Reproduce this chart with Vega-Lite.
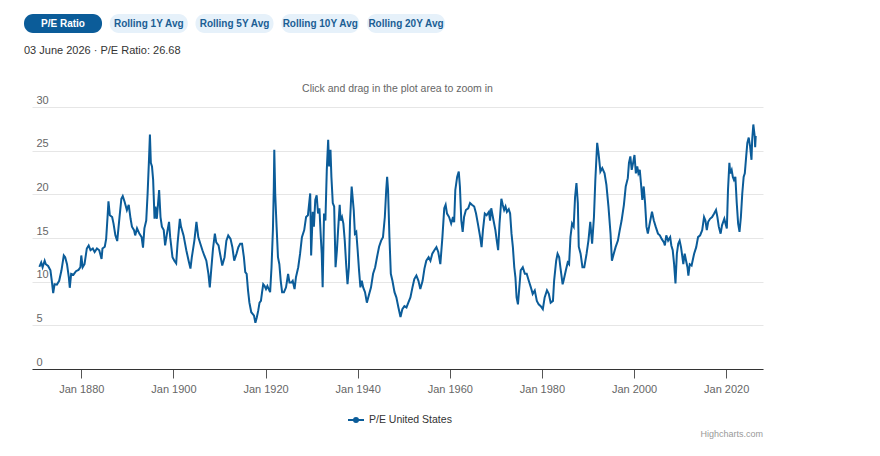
{
  "$schema": "https://vega.github.io/schema/vega-lite/v6.json",
  "background": "white",
  "padding": {"left": 24, "top": 14, "right": 10, "bottom": 5},
  "config": {"view": {"stroke": null}, "font": "Liberation Sans", "concat": {"spacing": 28}},
  "title": {"text": "Highcharts.com", "orient": "bottom", "anchor": "end", "fontSize": 9, "color": "#999999", "fontWeight": "normal", "offset": 4},
  "vconcat": [
    {
      "width": 421,
      "height": 19,
      "data": {"values": [
        {"label": "P/E Ratio"}, {"label": "Rolling 1Y Avg"}, {"label": "Rolling 5Y Avg"}, {"label": "Rolling 10Y Avg"}, {"label": "Rolling 20Y Avg"}
      ]},
      "title": {"text": "03 June 2026 · P/E Ratio: 26.68", "orient": "bottom", "anchor": "start", "fontSize": 11, "fontWeight": "normal", "color": "#333333", "offset": 12},
      "encoding": {
        "x": {"field": "label", "type": "nominal", "sort": null, "scale": {"range": [-8, 413], "paddingInner": 0.09, "paddingOuter": 0}, "axis": null}
      },
      "layer": [
        {"mark": {"type": "rect", "cornerRadius": 9},
         "encoding": {"fill": {"condition": {"test": "datum.label === 'P/E Ratio'", "value": "#0b5c99"}, "value": "#e6f1fa"}}},
        {"mark": {"type": "text", "fontSize": 10, "fontWeight": "bold"},
         "encoding": {"text": {"field": "label"}, "color": {"condition": {"test": "datum.label === 'P/E Ratio'", "value": "#ffffff"}, "value": "#1b5e94"}}}
      ]
    },
    {
      "width": 731,
      "height": 262,
      "title": {"text": "Click and drag in the plot area to zoom in", "anchor": "middle", "frame": "group", "fontSize": 10.5, "fontWeight": "normal", "color": "#666666", "offset": -0.5},
      "data": {"values": [
        {"year":1870.9,"pe":11.7},{"year":1871.3,"pe":12.2},{"year":1871.6,"pe":11.65},{"year":1872.05,"pe":12.4},{"year":1872.3,"pe":12.0},{"year":1872.8,"pe":11.8},{"year":1873.3,"pe":11.3},{"year":1873.6,"pe":10.1},{"year":1873.9,"pe":8.7},{"year":1874.2,"pe":9.7},{"year":1874.7,"pe":9.65},{"year":1875.2,"pe":10.1},{"year":1875.7,"pe":11.3},{"year":1876.2,"pe":13.0},{"year":1876.5,"pe":12.8},{"year":1876.9,"pe":12.0},{"year":1877.3,"pe":10.5},{"year":1877.5,"pe":9.3},{"year":1877.8,"pe":10.9},{"year":1878.3,"pe":10.8},{"year":1878.85,"pe":11.2},{"year":1879.4,"pe":11.35},{"year":1879.8,"pe":11.65},{"year":1880.0,"pe":13.0},{"year":1880.3,"pe":11.65},{"year":1880.7,"pe":12.0},{"year":1881.2,"pe":13.8},{"year":1881.6,"pe":14.15},{"year":1882.0,"pe":13.6},{"year":1882.5,"pe":13.8},{"year":1882.9,"pe":13.4},{"year":1883.4,"pe":13.8},{"year":1883.9,"pe":13.6},{"year":1884.4,"pe":12.6},{"year":1884.6,"pe":13.8},{"year":1885.1,"pe":14.0},{"year":1885.4,"pe":14.9},{"year":1885.7,"pe":17.4},{"year":1885.9,"pe":19.2},{"year":1886.2,"pe":17.6},{"year":1886.7,"pe":17.4},{"year":1887.0,"pe":16.65},{"year":1887.4,"pe":15.3},{"year":1887.8,"pe":14.65},{"year":1888.3,"pe":17.4},{"year":1888.7,"pe":19.5},{"year":1889.0,"pe":19.8},{"year":1889.4,"pe":19.15},{"year":1889.9,"pe":18.2},{"year":1890.3,"pe":18.8},{"year":1890.7,"pe":17.2},{"year":1891.0,"pe":16.3},{"year":1891.45,"pe":15.9},{"year":1891.7,"pe":15.3},{"year":1892.1,"pe":16.1},{"year":1892.6,"pe":15.5},{"year":1893.1,"pe":15.1},
        {"year":1893.4,"pe":13.9},{"year":1893.7,"pe":16.1},{"year":1894.1,"pe":17.0},{"year":1894.4,"pe":20.1},{"year":1894.7,"pe":24.0},{"year":1894.9,"pe":26.85},{"year":1895.1,"pe":23.6},{"year":1895.35,"pe":23.2},{"year":1895.6,"pe":21.65},{"year":1895.9,"pe":17.2},{"year":1896.1,"pe":18.6},{"year":1896.4,"pe":17.2},{"year":1896.9,"pe":20.5},{"year":1897.2,"pe":17.4},{"year":1897.5,"pe":16.3},{"year":1897.9,"pe":15.9},{"year":1898.2,"pe":14.15},{"year":1898.6,"pe":15.5},{"year":1899.05,"pe":16.85},{"year":1899.3,"pe":15.1},{"year":1899.8,"pe":12.8},{"year":1900.2,"pe":12.4},{"year":1900.6,"pe":12.1},{"year":1900.9,"pe":14.35},{"year":1901.4,"pe":17.2},{"year":1901.65,"pe":16.3},{"year":1902.2,"pe":15.3},{"year":1902.8,"pe":13.6},{"year":1903.3,"pe":12.4},{"year":1903.7,"pe":11.5},{"year":1904.0,"pe":12.8},{"year":1904.55,"pe":14.7},{"year":1905.0,"pe":16.85},{"year":1905.4,"pe":15.1},{"year":1905.85,"pe":14.35},{"year":1906.3,"pe":13.6},{"year":1906.7,"pe":13.0},{"year":1907.15,"pe":12.4},{"year":1907.6,"pe":10.9},{"year":1907.9,"pe":9.35},{"year":1908.2,"pe":11.3},{"year":1908.6,"pe":13.8},{"year":1909.0,"pe":15.5},{"year":1909.3,"pe":14.5},{"year":1909.8,"pe":14.15},{"year":1910.2,"pe":13.0},{"year":1910.6,"pe":11.85},{"year":1911.1,"pe":12.8},{"year":1911.5,"pe":14.7},{"year":1911.9,"pe":15.3},{"year":1912.4,"pe":14.9},{"year":1912.8,"pe":13.95},{"year":1913.2,"pe":12.4},{"year":1913.7,"pe":13.2},{"year":1914.1,"pe":13.95},{"year":1914.5,"pe":14.35},{"year":1914.9,"pe":14.35},
        {"year":1915.3,"pe":12.8},{"year":1915.6,"pe":11.1},{"year":1915.9,"pe":10.9},{"year":1916.2,"pe":9.0},{"year":1916.5,"pe":7.6},{"year":1916.9,"pe":6.5},{"year":1917.2,"pe":6.3},{"year":1917.5,"pe":6.1},{"year":1917.8,"pe":5.3},{"year":1918.1,"pe":5.9},{"year":1918.4,"pe":6.65},{"year":1918.7,"pe":7.6},{"year":1919.0,"pe":7.8},{"year":1919.25,"pe":8.8},{"year":1919.5,"pe":9.7},{"year":1919.8,"pe":9.5},{"year":1920.1,"pe":9.15},{"year":1920.4,"pe":9.5},{"year":1920.7,"pe":9.15},{"year":1921.0,"pe":8.8},{"year":1921.3,"pe":11.65},{"year":1921.6,"pe":15.9},{"year":1921.8,"pe":20.9},{"year":1921.9,"pe":25.1},{"year":1922.1,"pe":20.1},{"year":1922.4,"pe":16.3},{"year":1922.7,"pe":12.8},{"year":1923.0,"pe":12.0},{"year":1923.3,"pe":10.1},{"year":1923.6,"pe":8.8},{"year":1924.0,"pe":8.8},{"year":1924.45,"pe":9.35},{"year":1924.9,"pe":10.9},{"year":1925.2,"pe":9.9},{"year":1925.6,"pe":9.9},{"year":1925.9,"pe":10.1},{"year":1926.3,"pe":9.15},{"year":1926.6,"pe":10.5},{"year":1927.1,"pe":11.65},{"year":1927.5,"pe":13.2},{"year":1927.9,"pe":15.1},{"year":1928.4,"pe":15.9},{"year":1928.8,"pe":17.4},{"year":1929.2,"pe":17.6},{"year":1929.7,"pe":20.1},{"year":1929.9,"pe":13.0},{"year":1930.25,"pe":18.0},{"year":1930.5,"pe":16.3},{"year":1930.8,"pe":19.35},{"year":1931.1,"pe":19.9},{"year":1931.4,"pe":17.8},{"year":1931.7,"pe":18.4},{"year":1932.0,"pe":15.1},{"year":1932.2,"pe":13.2},{"year":1932.4,"pe":9.35},{"year":1932.7,"pe":17.8},{"year":1933.0,"pe":17.0},{"year":1933.3,"pe":22.8},{"year":1933.6,"pe":26.25},{"year":1933.8,"pe":23.2},{"year":1934.1,"pe":25.1},{"year":1934.3,"pe":22.0},{"year":1934.6,"pe":19.0},{"year":1934.9,"pe":18.6},{"year":1935.2,"pe":11.65},{"year":1935.5,"pe":13.6},{"year":1935.75,"pe":15.9},{"year":1936.1,"pe":18.8},{"year":1936.3,"pe":17.0},{"year":1936.6,"pe":17.4},{"year":1936.9,"pe":16.65},{"year":1937.2,"pe":14.7},{"year":1937.5,"pe":12.0},{"year":1937.8,"pe":9.7},{"year":1938.1,"pe":11.65},{"year":1938.35,"pe":17.0},{"year":1938.7,"pe":20.9},
        {"year":1939.15,"pe":18.2},{"year":1939.4,"pe":15.5},{"year":1939.7,"pe":15.7},{"year":1940.0,"pe":13.6},{"year":1940.3,"pe":11.3},{"year":1940.6,"pe":9.35},{"year":1940.9,"pe":10.1},{"year":1941.2,"pe":9.35},{"year":1941.6,"pe":8.8},{"year":1942.0,"pe":7.6},{"year":1942.5,"pe":8.6},{"year":1942.9,"pe":9.35},{"year":1943.35,"pe":10.9},{"year":1943.8,"pe":11.65},{"year":1944.2,"pe":12.8},{"year":1944.65,"pe":14.0},{"year":1945.1,"pe":14.7},{"year":1945.5,"pe":15.1},{"year":1945.9,"pe":17.4},{"year":1946.2,"pe":20.5},{"year":1946.4,"pe":22.0},{"year":1946.6,"pe":20.5},{"year":1946.9,"pe":15.1},{"year":1947.2,"pe":10.9},{"year":1947.55,"pe":10.1},{"year":1948.0,"pe":8.8},{"year":1948.4,"pe":8.2},{"year":1948.85,"pe":7.05},{"year":1949.3,"pe":5.95},{"year":1949.7,"pe":6.85},{"year":1950.15,"pe":7.2},{"year":1950.6,"pe":7.05},{"year":1951.0,"pe":7.6},{"year":1951.45,"pe":8.2},{"year":1951.9,"pe":9.35},{"year":1952.3,"pe":10.3},{"year":1952.75,"pe":10.7},{"year":1953.2,"pe":10.1},{"year":1953.6,"pe":9.15},{"year":1954.1,"pe":10.1},{"year":1954.5,"pe":11.5},{"year":1954.9,"pe":12.4},{"year":1955.4,"pe":12.8},{"year":1955.8,"pe":12.4},{"year":1956.2,"pe":13.2},{"year":1956.65,"pe":13.6},{"year":1957.1,"pe":13.95},{"year":1957.5,"pe":13.4},{"year":1957.95,"pe":12.0},{"year":1958.4,"pe":15.1},{"year":1958.8,"pe":18.4},{"year":1959.1,"pe":18.8},{"year":1959.4,"pe":17.8},{"year":1959.85,"pe":17.4},{"year":1960.3,"pe":16.65},{"year":1960.7,"pe":17.4},{"year":1960.95,"pe":16.8},
        {"year":1961.2,"pe":20.5},{"year":1961.6,"pe":22.0},{"year":1961.95,"pe":22.6},{"year":1962.2,"pe":20.9},{"year":1962.5,"pe":17.0},{"year":1962.8,"pe":15.7},{"year":1963.1,"pe":17.4},{"year":1963.5,"pe":18.2},{"year":1964.0,"pe":18.4},{"year":1964.4,"pe":19.0},{"year":1964.8,"pe":18.8},{"year":1965.3,"pe":18.6},{"year":1965.7,"pe":17.8},{"year":1966.1,"pe":16.65},{"year":1966.6,"pe":15.1},{"year":1966.9,"pe":13.95},{"year":1967.2,"pe":15.9},{"year":1967.6,"pe":17.8},{"year":1968.0,"pe":17.6},{"year":1968.5,"pe":18.0},{"year":1968.75,"pe":17.0},{"year":1969.0,"pe":18.4},{"year":1969.5,"pe":17.0},{"year":1969.9,"pe":15.9},{"year":1970.2,"pe":14.7},{"year":1970.5,"pe":13.6},{"year":1970.8,"pe":16.65},{"year":1971.2,"pe":19.5},{"year":1971.5,"pe":18.8},{"year":1971.8,"pe":18.2},{"year":1972.1,"pe":18.6},{"year":1972.4,"pe":18.0},{"year":1972.8,"pe":18.3},{"year":1973.1,"pe":17.8},{"year":1973.4,"pe":15.5},{"year":1973.7,"pe":13.95},{"year":1974.0,"pe":11.65},{"year":1974.25,"pe":10.5},{"year":1974.5,"pe":8.2},{"year":1974.8,"pe":7.4},{"year":1975.1,"pe":9.35},{"year":1975.4,"pe":11.3},{"year":1975.85,"pe":11.65},{"year":1976.3,"pe":10.9},{"year":1976.7,"pe":10.9},{"year":1977.15,"pe":10.1},{"year":1977.6,"pe":9.35},{"year":1978.0,"pe":8.6},{"year":1978.45,"pe":9.0},{"year":1978.9,"pe":7.8},{"year":1979.3,"pe":7.4},{"year":1979.75,"pe":7.2},{"year":1980.2,"pe":6.85},{"year":1980.6,"pe":8.2},{"year":1981.1,"pe":9.0},{"year":1981.5,"pe":8.6},{"year":1981.9,"pe":7.6},{"year":1982.4,"pe":7.8},{"year":1982.65,"pe":10.1},{"year":1983.1,"pe":12.4},{"year":1983.4,"pe":13.2},{"year":1983.75,"pe":12.8},{"year":1984.05,"pe":11.5},{"year":1984.5,"pe":9.7},{"year":1984.7,"pe":10.1},
        {"year":1985.2,"pe":11.3},{"year":1985.6,"pe":12.2},{"year":1985.9,"pe":12.0},{"year":1986.2,"pe":15.1},{"year":1986.55,"pe":16.65},{"year":1986.9,"pe":16.3},{"year":1987.2,"pe":19.7},{"year":1987.5,"pe":21.3},{"year":1987.8,"pe":19.0},{"year":1988.0,"pe":14.0},{"year":1988.4,"pe":13.2},{"year":1988.8,"pe":11.65},{"year":1989.2,"pe":11.65},{"year":1989.7,"pe":13.2},{"year":1990.1,"pe":14.7},{"year":1990.5,"pe":16.85},{"year":1990.9,"pe":14.35},{"year":1991.3,"pe":17.4},{"year":1991.6,"pe":21.65},{"year":1992.0,"pe":25.9},{"year":1992.3,"pe":24.7},{"year":1992.7,"pe":22.6},{"year":1993.1,"pe":23.0},{"year":1993.6,"pe":22.4},{"year":1994.0,"pe":21.1},{"year":1994.45,"pe":18.6},{"year":1994.9,"pe":15.5},{"year":1995.2,"pe":12.4},{"year":1995.6,"pe":13.2},{"year":1996.0,"pe":13.95},{"year":1996.5,"pe":14.7},{"year":1996.9,"pe":15.9},{"year":1997.3,"pe":17.0},{"year":1997.8,"pe":18.8},{"year":1998.2,"pe":20.9},{"year":1998.65,"pe":21.85},{"year":1998.9,"pe":23.6},{"year":1999.2,"pe":24.35},{"year":1999.5,"pe":22.8},{"year":1999.8,"pe":23.6},{"year":2000.1,"pe":24.5},{"year":2000.4,"pe":22.4},{"year":2000.7,"pe":23.2},{"year":2000.95,"pe":22.4},{"year":2001.25,"pe":22.8},{"year":2001.5,"pe":21.3},{"year":2001.8,"pe":19.35},{"year":2002.1,"pe":20.9},{"year":2002.4,"pe":19.0},{"year":2002.7,"pe":16.3},{"year":2003.0,"pe":15.5},{"year":2003.4,"pe":16.65},{"year":2003.9,"pe":18.0},{"year":2004.3,"pe":17.0},{"year":2004.7,"pe":16.3},{"year":2005.2,"pe":15.5},{"year":2005.6,"pe":15.3},{"year":2006.0,"pe":14.9},{"year":2006.5,"pe":14.5},{"year":2006.7,"pe":14.15},{"year":2007.0,"pe":15.3},
        {"year":2007.4,"pe":14.7},{"year":2007.85,"pe":15.1},{"year":2008.1,"pe":14.15},{"year":2008.4,"pe":13.6},{"year":2008.7,"pe":12.0},{"year":2009.0,"pe":9.8},{"year":2009.3,"pe":13.2},{"year":2009.6,"pe":14.35},{"year":2009.9,"pe":14.7},{"year":2010.2,"pe":13.95},{"year":2010.4,"pe":13.2},{"year":2010.7,"pe":12.0},{"year":2011.0,"pe":13.2},{"year":2011.3,"pe":12.4},{"year":2011.6,"pe":11.65},{"year":2011.8,"pe":10.7},{"year":2012.1,"pe":12.0},{"year":2012.5,"pe":11.85},{"year":2012.8,"pe":12.6},{"year":2013.05,"pe":13.2},{"year":2013.5,"pe":13.95},{"year":2013.9,"pe":15.1},{"year":2014.35,"pe":15.3},{"year":2014.8,"pe":15.9},{"year":2015.2,"pe":17.4},{"year":2015.5,"pe":17.0},{"year":2015.8,"pe":15.9},{"year":2016.1,"pe":16.85},{"year":2016.5,"pe":17.2},{"year":2016.95,"pe":17.4},{"year":2017.4,"pe":17.8},{"year":2017.8,"pe":18.2},{"year":2018.1,"pe":17.4},{"year":2018.4,"pe":16.3},{"year":2018.8,"pe":15.5},{"year":2019.1,"pe":16.45},{"year":2019.6,"pe":17.2},{"year":2019.85,"pe":16.65},{"year":2020.15,"pe":16.1},{"year":2020.4,"pe":20.5},{"year":2020.7,"pe":23.6},{"year":2020.9,"pe":22.4},{"year":2021.2,"pe":22.8},{"year":2021.45,"pe":22.0},{"year":2021.7,"pe":21.65},{"year":2022.0,"pe":22.0},{"year":2022.3,"pe":19.0},{"year":2022.6,"pe":16.65},{"year":2022.9,"pe":15.7},{"year":2023.2,"pe":17.4},{"year":2023.5,"pe":20.1},{"year":2023.8,"pe":22.0},{"year":2024.05,"pe":22.4},{"year":2024.35,"pe":24.35},{"year":2024.6,"pe":25.9},{"year":2024.9,"pe":26.5},{"year":2025.2,"pe":25.5},{"year":2025.5,"pe":23.95},{"year":2025.65,"pe":26.25},{"year":2025.9,"pe":28.0},{"year":2026.2,"pe":26.65},{"year":2026.3,"pe":25.4},{"year":2026.42,"pe":26.68}
      ]},
      "mark": {"type": "line", "strokeWidth": 2},
      "encoding": {
        "x": {"field": "year", "type": "quantitative",
              "scale": {"domain": [1869.3, 2028], "nice": false, "zero": false},
              "axis": {"values": [1880, 1900, 1920, 1940, 1960, 1980, 2000, 2020], "labelExpr": "'Jan ' + datum.value", "title": null, "grid": false, "domainColor": "#333333", "tickColor": "#555555", "tickSize": 9, "labelFontSize": 11, "labelColor": "#666666", "labelPadding": 5, "labelFlush": false, "labelOverlap": false}},
        "y": {"field": "pe", "type": "quantitative",
              "scale": {"domain": [0, 30], "nice": false},
              "axis": {"values": [0, 5, 10, 15, 20, 25, 30], "title": null, "domain": false, "ticks": false, "tickSize": 0, "minExtent": 0, "labelAlign": "left", "labelBaseline": "bottom", "labelPadding": -4, "labelOffset": -2, "gridColor": "#e6e6e6", "labelColor": "#666666", "labelFontSize": 11}},
        "color": {"datum": "P/E United States", "type": "nominal",
                  "scale": {"range": ["#0b5c99"]},
                  "legend": {"title": null, "orient": "none", "legendX": 315, "legendY": 397, "direction": "horizontal", "symbolType": "M-1,0L1,0M0.25,0A0.25,0.25 0 1,1 -0.25,0A0.25,0.25 0 1,1 0.25,0", "symbolSize": 256, "symbolStrokeWidth": 2, "labelFontSize": 10.5, "labelColor": "#333333"}}
      }
    }
  ]
}
